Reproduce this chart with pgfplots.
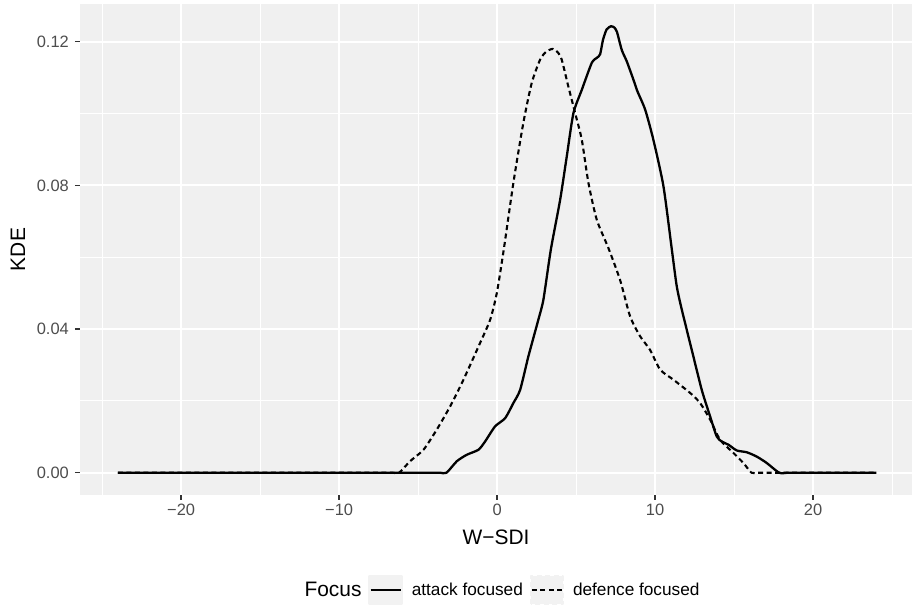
\documentclass[border=0pt]{standalone}
\usepackage{pgfplots}
\pgfplotsset{compat=1.18}
\usepackage{fontspec}
\setmainfont{Liberation Sans}
\definecolor{panelbg}{HTML}{F0F0F0}
\definecolor{keybg}{HTML}{F2F2F2}
\definecolor{ticklab}{HTML}{4D4D4D}
\definecolor{tickcol}{HTML}{333333}

\pgfplotstableread{
x y
-24 0
-22 0
-20 0
-18 0
-16 0
-14 0
-12 0
-10 0
-8 0
-6 0
-5 0
-4.4 0
-4.0 0
-3.6 0
-3.2 0
-2.55 0.0032
-1.92 0.0050
-1.18 0.0064
-0.76 0.0087
-0.13 0.0129
0.51 0.0152
1.03 0.0194
1.46 0.0231
1.98 0.0324
2.61 0.0426
2.93 0.0482
3.40 0.0621
3.99 0.0760
4.41 0.0881
4.83 0.1001
5.36 0.1066
5.99 0.1141
6.31 0.1155
6.52 0.1165
6.70 0.1205
6.93 0.1234
7.20 0.1243
7.40 0.1240
7.58 0.1228
7.89 0.1177
8.21 0.1145
8.63 0.1094
8.88 0.1062
9.37 0.1011
9.89 0.0927
10.53 0.0797
11.06 0.0621
11.37 0.0519
11.69 0.0454
12.32 0.0342
12.95 0.0231
13.48 0.0157
13.90 0.0101
14.22 0.0087
14.64 0.0078
15.17 0.0062
15.80 0.0057
16.43 0.0045
17.07 0.0027
17.85 0
18.4 0
18.9 0
19.5 0
20.5 0
22 0
24 0
}\attack

\pgfplotstableread{
x y
-24 0
-22 0
-20 0
-18 0
-16 0
-14 0
-12 0
-10 0
-8.5 0
-7.6 0
-7.0 0
-6.6 0
-6.2 0
-5.51 0.0032
-4.66 0.0064
-3.82 0.0120
-2.97 0.0185
-2.13 0.0259
-1.08 0.0361
-0.44 0.0426
-0.02 0.0500
0.42 0.0621
1.03 0.0807
1.66 0.0974
2.19 0.1085
2.72 0.1150
3.10 0.1172
3.52 0.1180
3.85 0.1170
4.09 0.1150
4.51 0.1075
4.94 0.1001
5.36 0.0927
5.78 0.0807
6.31 0.0704
7.04 0.0626
7.78 0.0537
8.42 0.0435
9.05 0.0380
9.68 0.0342
10.32 0.0287
11.16 0.0259
12.22 0.0222
12.85 0.0194
13.48 0.0148
14.11 0.0092
14.96 0.0055
15.59 0.0027
16.10 0
16.5 0
16.9 0
17.5 0
18.5 0
20 0
22 0
24 0
}\defence

\begin{document}
\begin{tikzpicture}
\path[use as bounding box] (0,0) rectangle (912bp,607bp);
\begin{axis}[
  at={(80bp,112bp)}, anchor=south west,
  scale only axis, width=832bp, height=491bp,
  xmin=-26.4, xmax=26.26, ymin=-0.0062, ymax=0.1305,
  axis background/.style={fill=panelbg},
  axis line style={draw=none},
  grid=both,
  major grid style={white, line width=2bp},
  minor grid style={white, line width=1bp},
  xtick={-20,-10,0,10,20},
  xticklabels={−20,−10,0,10,20},
  minor xtick={-25,-15,-5,5,15,25},
  ytick={0,0.04,0.08,0.12},
  yticklabels={0.00,0.04,0.08,0.12},
  minor ytick={0.02,0.06,0.1},
  tick pos=left,
  tick align=outside,
  major tick length=5bp,
  minor tick length=0bp,
  every tick/.style={tickcol, line width=1.4bp},
  ticklabel style={font=\fontsize{16.5}{16.5}\selectfont, text=ticklab},
  xticklabel style={anchor=north, inner sep=0pt, yshift=-4bp},
  yticklabel style={anchor=east, inner sep=0pt, xshift=-6bp},
  xlabel={W−SDI},
  ylabel={KDE},
  label style={font=\fontsize{21}{21}\selectfont, text=black},
  xlabel style={at={(axis description cs:0.5,0)}, anchor=center, yshift=-42bp},
  ylabel style={at={(axis description cs:0,0.5)}, anchor=center, yshift=62bp},
  legend columns=-1,
  legend style={at={(axis description cs:0.5,0)}, anchor=center, yshift=-95bp, xshift=6bp,
    draw=none, fill=none, inner sep=0pt, column sep=0bp,
    nodes={inner sep=0pt, anchor=west},
    font=\fontsize{17.3}{17.3}\selectfont,
    /tikz/every odd column/.append style={column sep=9bp},
    /tikz/every even column/.append style={column sep=7bp}},
  legend image code/.code={
    \fill[keybg] (0bp,-14bp) rectangle (32bp,14bp);
    \draw[#1] (1bp,0bp) -- (31bp,0bp);
  },
]
\addlegendimage{empty legend}
\addlegendentry{\hspace{-9bp}\fontsize{21}{21}\selectfont Focus}
\addplot[black, line width=2.3bp, line join=round, smooth, tension=0.4] table[x=x,y=y] {\attack};
\addlegendentry{attack focused}
\addplot[black, line width=2.1bp, dash pattern=on 5bp off 3.5bp, line join=round, smooth, tension=0.4] table[x=x,y=y] {\defence};
\addlegendentry{defence focused}
\end{axis}
\end{tikzpicture}
\end{document}
